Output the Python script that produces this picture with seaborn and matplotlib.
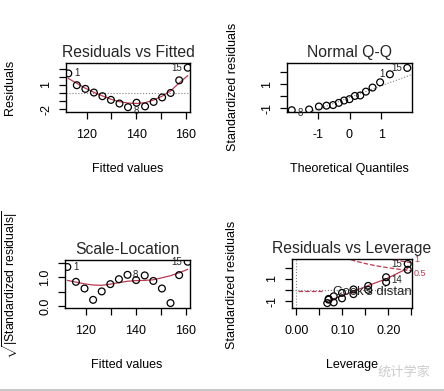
import numpy as np
import matplotlib.pyplot as plt
from matplotlib.lines import Line2D
import seaborn as sns

# values
obs_id = list(range(1, 16))
fitted = [112.58, 116.03, 119.48, 122.93, 126.38, 129.83, 133.28, 136.73,
          140.18, 143.63, 147.08, 150.53, 153.98, 157.43, 160.88]
residuals = [2.42, 0.97, 0.52, 0.07, -0.38, -0.83, -1.28, -1.73,
             -1.18, -1.63, -1.08, -0.53, 0.02, 1.57, 3.12]
std_residuals = [1.82, 0.71, 0.37, 0.05, -0.26, -0.57, -0.87, -1.18,
                 -0.80, -1.12, -0.75, -0.37, 0.01, 1.15, 2.35]
sqrt_std_residuals = [1.35, 0.84, 0.61, 0.22, 0.51, 0.76, 0.93, 1.08,
                      0.90, 1.06, 0.87, 0.61, 0.11, 1.07, 1.53]
leverage = [0.242, 0.195, 0.156, 0.124, 0.099, 0.081, 0.070, 0.067,
            0.070, 0.081, 0.099, 0.124, 0.156, 0.195, 0.242]

theoretical_q = [-1.83, -1.28, -0.97, -0.73, -0.52, -0.34, -0.17, 0.0,
                 0.17, 0.34, 0.52, 0.73, 0.97, 1.28, 1.83]
sorted_std_residuals = [-1.18, -1.12, -0.87, -0.80, -0.75, -0.57, -0.37, -0.26,
                        0.01, 0.05, 0.37, 0.71, 1.15, 1.82, 2.35]
qq_ids = [8, 10, 7, 9, 11, 6, 12, 5, 13, 4, 3, 2, 14, 1, 15]
qq_slope, qq_intercept = 0.97, -0.12

# red smoother lines
smooth_resid = [1.80, 1.20, 0.60, 0.10, -0.35, -0.75, -1.05, -1.22,
                -1.27, -1.18, -0.85, -0.38, 0.28, 1.25, 2.15]
smooth_scale = [0.89, 0.83, 0.77, 0.73, 0.72, 0.76, 0.81, 0.86,
                0.88, 0.89, 0.91, 0.98, 1.05, 1.15, 1.27]
lev_grid = [0.067, 0.070, 0.081, 0.099, 0.124, 0.156, 0.195, 0.242]
smooth_lev = [-1.02, -0.95, -0.80, -0.50, -0.12, 0.40, 1.00, 1.95]

cook_levels = [0.5, 1]
n_coef = 2

RED = "#BE3A50"
W, H = 444, 391

sns.set_theme(style="ticks")
plt.rcParams['font.family'] = ['Liberation Sans', 'DejaVu Sans']
plt.rcParams['mathtext.fontset'] = 'custom'
plt.rcParams['mathtext.rm'] = 'Liberation Sans'
plt.rcParams['mathtext.it'] = 'Liberation Sans'

fig = plt.figure(figsize=(W / 100, H / 100), dpi=100)
fig.patch.set_facecolor("white")


def panel(left, top, right, bottom):
    ax = fig.add_axes([left / W, 1 - bottom / H, (right - left) / W, (bottom - top) / H])
    ax.set_facecolor("white")
    for s in ax.spines.values():
        s.set_visible(True)
        s.set_color("black")
        s.set_linewidth(1.0)
    ax.tick_params(axis="both", direction="out", length=5, width=0.9,
                   colors="black", labelsize=9)
    ax.tick_params(axis="x", pad=7)
    ax.tick_params(axis="y", pad=5)
    return ax


def ticks(ax, xt, xl, yt, yl):
    ax.set_xticks(xt)
    ax.set_xticklabels(xl)
    ax.set_yticks(yt)
    ax.set_yticklabels(yl, rotation=90, va="center")


def label(x, y, text, rot=0, size=9):
    fig.text(x / W, 1 - y / H, text, ha="center", va="center",
             rotation=rot, fontsize=size, color="black")


def points(ax, x, y):
    sns.scatterplot(x=x, y=y, ax=ax, marker="o", s=24, facecolors="none",
                    edgecolor="black", linewidth=0.9, legend=False, zorder=3)


def ids(ax, x, y, text, side, dy=0.0):
    ax.annotate(text, (x, y), xytext=(4 if side == "r" else -4, dy),
                textcoords="offset points", ha="left" if side == "r" else "right",
                va="center", fontsize=7, annotation_clip=False)


# Residuals vs Fitted
ax1 = panel(66, 63, 190, 112)
ax1.axhline(0, color="gray", ls=":", lw=0.8)
points(ax1, fitted, residuals)
sns.lineplot(x=fitted, y=smooth_resid, ax=ax1, color=RED, lw=0.9)
ax1.set_xlim(111.65, 161.8)
ax1.set_ylim(-2.32, 3.70)
ticks(ax1, [120, 130, 140, 150, 160], ["120", "", "140", "", "160"],
      [-2, -1, 0, 1, 2, 3], ["-2", "", "", "1", "", ""])
ax1.set_title("Residuals vs Fitted", fontsize=11.3, pad=4)
ids(ax1, fitted[0], residuals[0], "1", "r")
ids(ax1, fitted[14], residuals[14], "15", "l")
ids(ax1, fitted[7], residuals[7], "8", "r", dy=-3)
label(128, 169, "Fitted values")
label(10, 87, "Residuals", rot=90)

# Normal Q-Q
ax2 = panel(287, 63, 412, 112)
ax2.axline((0, qq_intercept), slope=qq_slope, color="gray", ls=":", lw=0.8)
points(ax2, theoretical_q, sorted_std_residuals)
ax2.set_xlim(-1.98, 1.98)
ax2.set_ylim(-1.33, 2.76)
ticks(ax2, [-1, 0, 1], ["-1", "0", "1"], [-1, 0, 1, 2], ["-1", "", "1", ""])
ax2.set_title("Normal Q-Q", fontsize=11.3, pad=4)
ids(ax2, theoretical_q[0], sorted_std_residuals[0], str(qq_ids[0]), "r", dy=-2)
ids(ax2, theoretical_q[13], sorted_std_residuals[13], str(qq_ids[13]), "l")
ids(ax2, theoretical_q[14], sorted_std_residuals[14], str(qq_ids[14]), "l")
label(349, 169, "Theoretical Quantiles")
label(233, 87, "Standardized residuals", rot=90)

# Scale-Location
ax3 = panel(65, 260, 190, 308)
points(ax3, fitted, sqrt_std_residuals)
sns.lineplot(x=fitted, y=smooth_scale, ax=ax3, color=RED, lw=0.9)
ax3.set_xlim(111.65, 161.8)
ax3.set_ylim(-0.06, 1.59)
ticks(ax3, [120, 130, 140, 150, 160], ["120", "", "140", "", "160"],
      [0, 0.5, 1.0, 1.5], ["0.0", "", "1.0", ""])
ax3.set_title("Scale-Location", fontsize=11.3, pad=4)
ids(ax3, fitted[0], sqrt_std_residuals[0], "1", "r")
ids(ax3, fitted[7], sqrt_std_residuals[7], "8", "r")
ids(ax3, fitted[14], sqrt_std_residuals[14], "15", "l")
label(127, 365, "Fitted values")
label(10, 285, r"$\sqrt{|\mathrm{Standardized\ residuals}|}$", rot=90, size=8.8)

# Residuals vs Leverage
ax4 = panel(292, 259, 412, 308)
ax4.axhline(0, color="gray", ls=":", lw=0.8)
ax4.axvline(0, color="gray", ls=":", lw=0.8)
xmin, xmax = -0.0097, 0.2513
hh = np.linspace(0.0024, xmax, 101)
for c, nudge in zip(cook_levels, [-2.2, 2.2]):
    cl = np.sqrt(c * n_coef * (1 - hh) / hh)
    ax4.plot(hh, cl, color=RED, ls="--", lw=0.9)
    ax4.plot(hh, -cl, color=RED, ls="--", lw=0.9)
    yedge = np.sqrt(c * n_coef * (1 - xmax) / xmax)
    ax4.annotate(f"{c:g}", (xmax, yedge), xytext=(1.5, nudge), textcoords="offset points",
                 color=RED, fontsize=6.5, ha="left", va="center", annotation_clip=False)
points(ax4, leverage, std_residuals)
sns.lineplot(x=lev_grid, y=smooth_lev, ax=ax4, color=RED, lw=0.9)
ax4.set_xlim(xmin, xmax)
ax4.set_ylim(-1.62, 2.79)
ticks(ax4, [0, 0.05, 0.10, 0.15, 0.20, 0.25], ["0.00", "", "0.10", "", "0.20", ""],
      [-1, 0, 1, 2], ["-1", "", "1", ""])
ax4.set_title("Residuals vs Leverage", fontsize=11.3, pad=4)
ids(ax4, leverage[14], std_residuals[14], "15", "l")
ids(ax4, leverage[13], std_residuals[13], "14", "r", dy=-2)
ax4.plot([0.05, 0.25], [0.34, 0.34], transform=ax4.transAxes, color=RED, ls="--", lw=0.9)
ax4.text(0.345, 0.33, "Cook's distance", transform=ax4.transAxes, fontsize=9.5,
         ha="left", va="center", clip_on=True)
label(352, 365, "Leverage")
label(232, 285, "Standardized residuals", rot=90)

# watermark and bottom border of the screenshot
fig.text(404 / W, 1 - 372 / H, "统计学家", ha="center", va="center", fontsize=9.5,
         color="#cdcdcd", family=["Noto Sans CJK SC", "DejaVu Sans"])
fig.add_artist(Line2D([0, 1], [1 - 389.5 / H, 1 - 389.5 / H], color="#bdbdbd", lw=1.2))

plt.savefig("out.png", dpi=100, facecolor="white")
